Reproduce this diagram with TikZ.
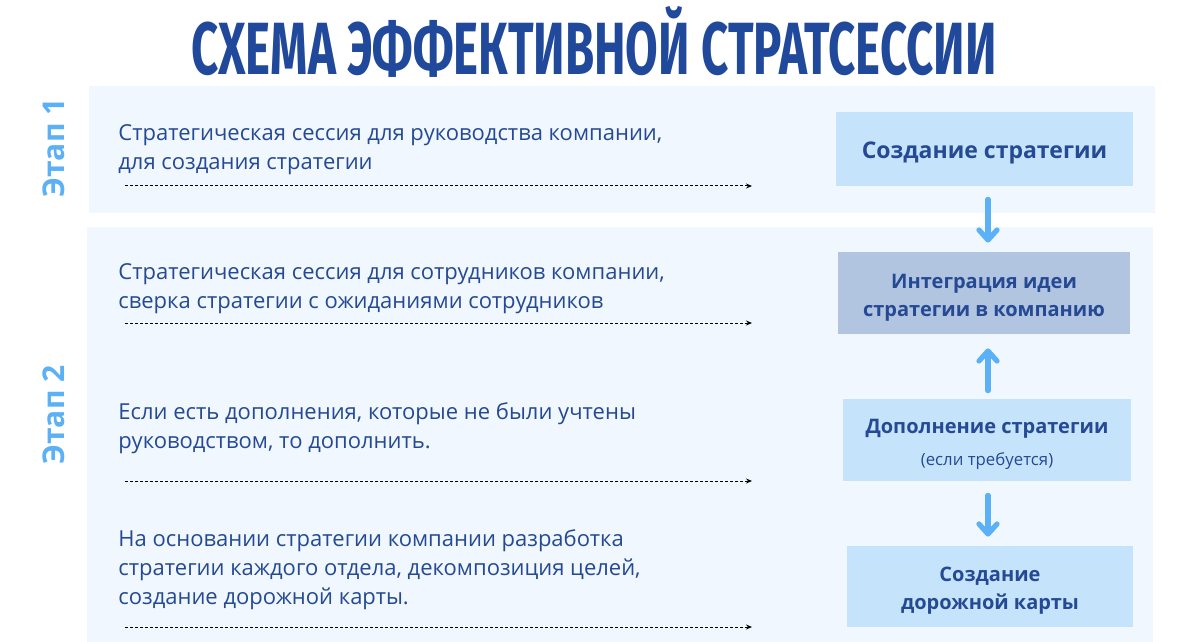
\documentclass[tikz,border=0pt]{standalone}
\usepackage{fontspec}
\setmainfont{Open Sans}
\newfontfamily\titlefont{Fira Sans}
\usepackage{tikz}
\usetikzlibrary{positioning, arrows.meta}
\definecolor{titleBlue}{RGB}{33,73,155}
\definecolor{textBlue}{RGB}{37,74,147}
\definecolor{stageBlue}{RGB}{92,176,245}
\definecolor{panelBlue}{RGB}{240,247,255}
\definecolor{boxLight}{RGB}{197,227,251}
\definecolor{boxDark}{RGB}{177,196,224}
\newcommand{\boxStrut}[1][11.5pt]{\rule{0pt}{#1}} % pushes box labels a bit down
\tikzset{
    x=0.5pt, y=-0.5pt, % one unit is one pixel of the sketch
    >=Stealth, % small heads on the dashed guides
    panel/.style={fill=panelBlue},
    stageLabel/.style={rotate=90, text=stageBlue, font=\fontsize{15}{15}\selectfont\bfseries},
    bodyText/.style={anchor=west, align=left, text=textBlue, inner sep=0pt, font=\fontsize{11}{14.5}\selectfont},
    styleBox/.style={fill=boxLight, text=textBlue, align=center, font=\fontsize{10}{14}\selectfont\bfseries},
    guide/.style={-{Stealth[length=3pt, width=2.5pt]}, dash pattern=on 1.6pt off 0.9pt, line width=0.5pt},
    flow/.style={-{Straight Barb[length=5pt, width=9pt, line cap=round, line join=round]}, stageBlue, line width=2.6pt, line cap=round},
}
\begin{document}
\begin{tikzpicture}
\useasboundingbox (0,0) rectangle (1200,642);
% background panels
\fill[panel] (89,86) rectangle (1155,213);
\fill[panel] (87,227) rectangle (1153,642);
\node[text=titleBlue] (title) at (594,42) {\scalebox{0.64}[1]{\titlefont\fontsize{37}{37}\selectfont\bfseries СХЕМА ЭФФЕКТИВНОЙ СТРАТСЕССИИ}};
\node[stageLabel] (stage1) at (54,148) {Этап 1};
\node[stageLabel] (stage2) at (54,415) {Этап 2};
% left column
\node[bodyText] (txt1) at (118,150) {Стратегическая сессия для руководства компании,\\для создания стратегии};
\node[bodyText] (txt2) at (118,288.5) {Стратегическая сессия для сотрудников компании,\\сверка стратегии с ожиданиями сотрудников};
\node[bodyText] (txt3) at (118,428) {Если есть дополнения, которые не были учтены\\руководством, то дополнить.};
\node[bodyText] (txt4) at (118,570) {На основании стратегии компании разработка\\стратегии каждого отдела, декомпозиция целей,\\создание дорожной карты.};
\foreach \y/\n in {186/1, 323/2, 481/3, 627/4} {
    \coordinate (gs\n) at (125,\y);
    \coordinate (ge\n) at (752,\y);
    \draw[guide] (gs\n) -- (ge\n);
}
% right column
\node[styleBox, font=\fontsize{11.5}{14}\selectfont\bfseries, minimum width=148.5pt, minimum height=37pt] (box1) at (984.5,149) {\boxStrut[12.6pt]Создание стратегии};
\node[styleBox, fill=boxDark, minimum width=146pt, minimum height=41pt] (box2) at (984,293) {\boxStrut Интеграция идеи\\стратегии в компанию};
\node[styleBox, minimum width=144pt, minimum height=41pt] (box3) at (987,440) {\boxStrut Дополнение стратегии\\[2pt]{\fontsize{8.4}{10}\selectfont\mdseries (если требуется)}};
\node[styleBox, minimum width=143pt, minimum height=40.5pt] (box4) at (990,586.5) {\boxStrut Создание\\дорожной карты};
\coordinate (col) at (988,0);
\draw[flow, shorten <=6.5pt, shorten >=4.5pt] (box1.south -| col) -- (box2.north -| col);
\draw[flow, shorten <=4pt, shorten >=7pt] (box3.north -| col) -- (box2.south -| col);
\draw[flow, shorten <=7pt, shorten >=4.5pt] (box3.south -| col) -- (box4.north -| col);
\end{tikzpicture}
\end{document}
